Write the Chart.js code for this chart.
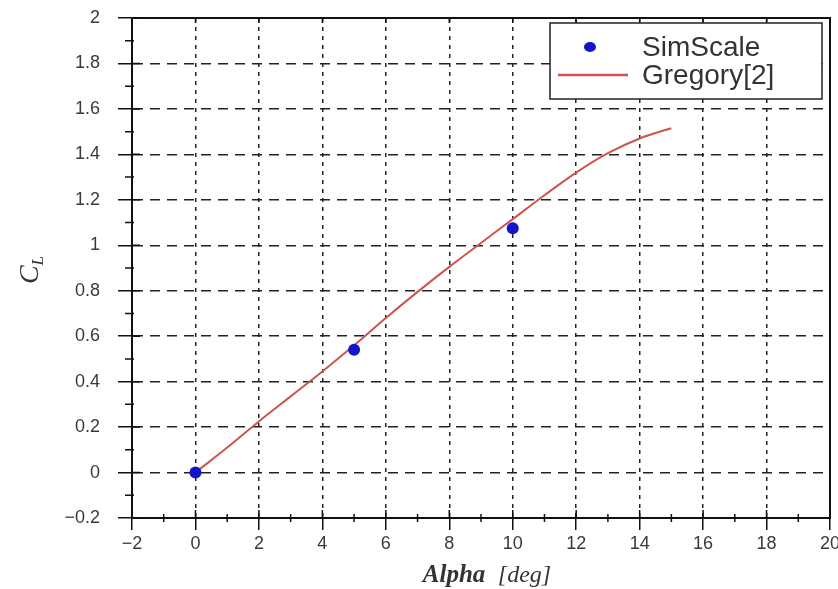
<!DOCTYPE html>
<html>
<head>
<meta charset="utf-8">
<script src="https://cdn.jsdelivr.net/npm/chart.js@4.4.1/dist/chart.umd.min.js"></script>
<style>
    html, body { margin: 0; padding: 0; background: #fff; }
    #wrap { width: 838px; height: 589px; }
</style>
</head>
<body>
<div id="wrap"><canvas id="clChart"></canvas></div>
<script>
// ── Data ──────────────────────────────────────────────────────────────────────

const seriesLabels = ['SimScale', 'Gregory[2]'];
const simAlpha = [0, 5, 10];
const simCl = [0, 0.54, 1.075];
const gregAlpha = [0, 1, 2, 3, 4, 5, 6, 7, 8, 9, 10, 11, 12, 13, 14, 15];
const gregCl = [0, 0.11, 0.225, 0.335, 0.445, 0.56, 0.68, 0.795, 0.905, 1.01, 1.115, 1.22, 1.32, 1.405, 1.47, 1.515];
const xRange = [-2, 20];
const yRange = [-0.2, 2];
const xTitleParts = ['Alpha', '[deg]'];
const yTitleParts = ['C', 'L'];

const tickFont = { family: "'Liberation Sans', Arial, sans-serif", size: 18 };
const tickColor = '#3a3a3a';

// ── Plugins ───────────────────────────────────────────────────────────────────

// box frame + inner major ticks + minor ticks
const frameTicks = {
    id: 'frameTicks',
    afterDraw(chart) {
        const { ctx, chartArea: a, scales: { x, y } } = chart;
        ctx.save();
        ctx.strokeStyle = '#111';
        ctx.lineWidth = 2;
        ctx.strokeRect(a.left, a.top, a.right - a.left, a.bottom - a.top);
        ctx.lineWidth = 1.5;
        ctx.beginPath();
        x.ticks.forEach((t, i) => {
            const px = x.getPixelForValue(t.value);
            ctx.moveTo(px, a.bottom); ctx.lineTo(px, a.bottom - 8);
            ctx.moveTo(px, a.top); ctx.lineTo(px, a.top + 5);
            if (i < x.ticks.length - 1) {
                const mx = x.getPixelForValue((t.value + x.ticks[i + 1].value) / 2);
                ctx.moveTo(mx, a.bottom + 4); ctx.lineTo(mx, a.bottom - 4);
            }
        });
        y.ticks.forEach((t, i) => {
            const py = y.getPixelForValue(t.value);
            ctx.moveTo(a.left, py); ctx.lineTo(a.left + 8, py);
            if (i < y.ticks.length - 1) {
                const my = y.getPixelForValue((t.value + y.ticks[i + 1].value) / 2);
                ctx.moveTo(a.left - 7, my); ctx.lineTo(a.left + 2, my);
            }
        });
        ctx.stroke();
        ctx.restore();
    },
};

// axis titles (C_L with subscript, Alpha [deg])
const axisTitles = {
    id: 'axisTitles',
    afterDraw(chart) {
        const { ctx, chartArea: a } = chart;
        ctx.save();
        ctx.fillStyle = '#333';
        ctx.textBaseline = 'alphabetic';

        // x title
        const boldFont = "italic bold 25px 'Liberation Serif', 'DejaVu Serif', serif";
        const normFont = "italic 24px 'Liberation Serif', 'DejaVu Serif', serif";
        ctx.font = boldFont;
        const w1 = ctx.measureText(xTitleParts[0] + '  ').width;
        ctx.font = normFont;
        const w2 = ctx.measureText(xTitleParts[1]).width;
        const cx = (a.left + a.right) / 2 + 6;
        const sx = cx - (w1 + w2) / 2;
        ctx.font = boldFont;
        ctx.fillText(xTitleParts[0], sx, 582);
        ctx.font = normFont;
        ctx.fillText(xTitleParts[1], sx + w1, 582);

        // y title
        ctx.translate(38, (a.top + a.bottom) / 2 + 2);
        ctx.rotate(-Math.PI / 2);
        const cFont = "italic 28px 'Liberation Serif', 'DejaVu Serif', serif";
        const lFont = "italic 17px 'Liberation Serif', 'DejaVu Serif', serif";
        ctx.font = cFont;
        const wc = ctx.measureText(yTitleParts[0]).width;
        ctx.font = lFont;
        const wl = ctx.measureText(yTitleParts[1]).width;
        const start = -(wc + wl) / 2;
        ctx.font = cFont;
        ctx.fillText(yTitleParts[0], start, 0);
        ctx.font = lFont;
        ctx.fillText(yTitleParts[1], start + wc, 5);
        ctx.restore();
    },
};

// boxed legend in the top-right corner
const boxLegend = {
    id: 'boxLegend',
    afterDraw(chart) {
        const { ctx, chartArea: a } = chart;
        const ds = chart.data.datasets;
        const bw = 272, bh = 76;
        const bx = a.right - 8 - bw, by = a.top + 5;
        ctx.save();
        ctx.fillStyle = '#fff';
        ctx.fillRect(bx, by, bw, bh);
        ctx.strokeStyle = '#222';
        ctx.lineWidth = 1.5;
        ctx.strokeRect(bx, by, bw, bh);

        ctx.font = "28px 'Liberation Sans', Arial, sans-serif";
        ctx.textBaseline = 'middle';
        const rows = [by + 24, by + 52];
        ds.forEach((d, i) => {
            const ry = rows[i];
            if (d.showLine) {
                ctx.strokeStyle = d.borderColor;
                ctx.lineWidth = 2.5;
                ctx.beginPath();
                ctx.moveTo(bx + 8, ry); ctx.lineTo(bx + 78, ry);
                ctx.stroke();
            } else {
                ctx.fillStyle = d.backgroundColor;
                ctx.beginPath();
                ctx.ellipse(bx + 40, ry, 6, 5, 0, 0, Math.PI * 2);
                ctx.fill();
            }
            ctx.fillStyle = '#333';
            ctx.fillText(d.label, bx + 92, ry + 1);
        });
        ctx.restore();
    },
};

// ── Chart ─────────────────────────────────────────────────────────────────────

const fmtTick = (v) => String(Math.round(v * 10) / 10).replace('-', '\u2212');

new Chart(document.getElementById('clChart'), {
    type: 'scatter',
    data: {
        datasets: [
            {
                label: seriesLabels[0],
                data: simAlpha.map((a, i) => ({ x: a, y: simCl[i] })),
                backgroundColor: '#1414c8',
                borderColor: '#1414c8',
                pointRadius: 6,
                pointBorderWidth: 0,
                showLine: false,
            },
            {
                label: seriesLabels[1],
                data: gregAlpha.map((a, i) => ({ x: a, y: gregCl[i] })),
                borderColor: '#cc5550',
                backgroundColor: '#cc5550',
                borderWidth: 2,
                pointRadius: 0,
                showLine: true,
                tension: 0.4,
            },
        ],
    },
    options: {
        responsive: true,
        maintainAspectRatio: false,
        animation: false,
        layout: { padding: { top: 18, right: 8, left: 0, bottom: 0 } },
        plugins: {
            legend: { display: false },
            tooltip: { enabled: false },
        },
        scales: {
            x: {
                type: 'linear',
                min: xRange[0],
                max: xRange[1],
                afterFit(scale) {
                    scale.height = 71;
                    scale.paddingLeft = 0;
                    scale.paddingRight = 0;
                },
                ticks: { stepSize: 2, color: tickColor, font: tickFont, padding: 3, callback: fmtTick },
                grid: { color: '#222', lineWidth: 1.5, tickLength: 12, tickColor: '#111', tickWidth: 1.5 },
                border: { display: true, color: '#111', width: 2, dash: [4, 5] },
            },
            y: {
                type: 'linear',
                min: yRange[0],
                max: yRange[1],
                afterFit(scale) {
                    scale.width = 132;
                    scale.paddingTop = 0;
                    scale.paddingBottom = 0;
                },
                ticks: { stepSize: 0.2, color: tickColor, font: tickFont, padding: 18, callback: fmtTick },
                grid: { color: '#222', lineWidth: 1.5, tickLength: 14, tickColor: '#111', tickWidth: 1.5 },
                border: { display: true, color: '#111', width: 2, dash: [10, 7] },
            },
        },
    },
    plugins: [frameTicks, boxLegend, axisTitles],
});
</script>
</body>
</html>
